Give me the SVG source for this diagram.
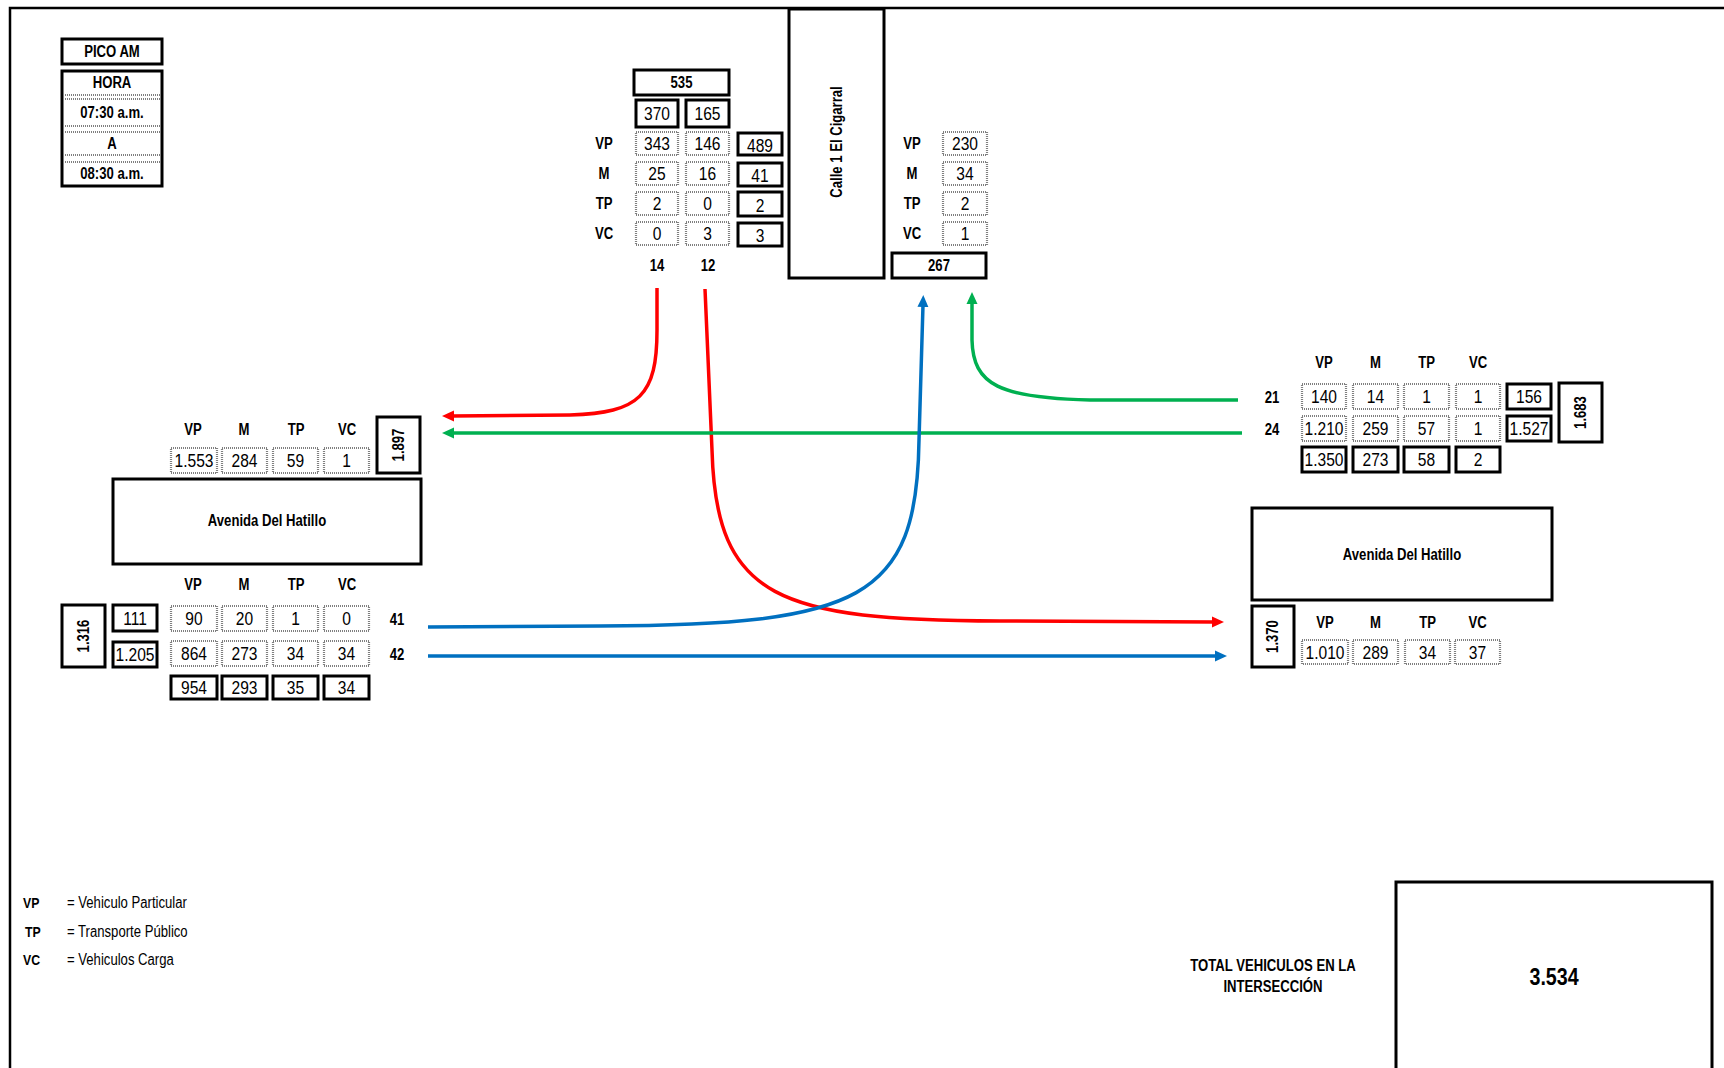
<svg xmlns="http://www.w3.org/2000/svg" width="1724" height="1068" viewBox="0 0 1724 1068">
<style>
text{font-family:"Liberation Sans",Arial,sans-serif;text-anchor:middle;dominant-baseline:central;fill:#000}
text:not(.r){transform-box:fill-box;transform-origin:center;transform:scaleX(0.82)}
text.lg,text.lb{transform-origin:left center}
.b{font-weight:bold;font-size:16px}
.n{font-size:19px}
.lg{font-size:16px;text-anchor:start}
.lb{font-weight:bold;font-size:15px;text-anchor:start}
.big{font-weight:bold;font-size:24px}
.k{fill:#fff;stroke:#000;stroke-width:3}
.d{fill:#fff;stroke:#7f7f7f;stroke-width:2.2;stroke-dasharray:1 1}
.dl{stroke:#7f7f7f;stroke-width:2.2;stroke-dasharray:1 1;fill:none}
.ar{fill:none;stroke-width:3.5}
</style>
<defs>
<marker id="mr" markerUnits="userSpaceOnUse" markerWidth="13" markerHeight="12" refX="2" refY="6" orient="auto"><path d="M0,0.5 L12,6 L0,11.5 z" fill="#FF0000"/></marker>
<marker id="mg" markerUnits="userSpaceOnUse" markerWidth="13" markerHeight="12" refX="2" refY="6" orient="auto"><path d="M0,0.5 L12,6 L0,11.5 z" fill="#00B050"/></marker>
<marker id="mb" markerUnits="userSpaceOnUse" markerWidth="13" markerHeight="12" refX="2" refY="6" orient="auto"><path d="M0,0.5 L12,6 L0,11.5 z" fill="#0070C0"/></marker>
</defs>
<rect width="1724" height="1068" fill="#fff"/>
<path d="M10,1068 L10,8 L1724,8" fill="none" stroke="#000" stroke-width="2.5"/>

<g id="header">
<rect class="k" x="62" y="39" width="100" height="25"/>
<text class="b" x="112" y="51.5">PICO AM</text>
<rect class="k" x="62" y="71" width="100" height="115"/>
<path class="dl" d="M63,95 H161 M63,99 H161 M63,126 H161 M63,132 H161 M63,155 H161 M63,162 H161"/>
<text class="b" x="112" y="83">HORA</text>
<text class="b" x="112" y="113">07:30 a.m.</text>
<text class="b" x="112" y="144">A</text>
<text class="b" x="112" y="174">08:30 a.m.</text>
</g>

<g id="calle-cigarral">
<rect class="k" x="789" y="9" width="95" height="269"/>
<text class="b r" transform="translate(837,142) rotate(-90) scale(0.82,1)" x="0" y="0">Calle 1 El Cigarral</text>
</g>

<g id="north-in">
<rect class="k" x="634" y="70" width="95" height="25"/>
<text class="b" x="681.5" y="82.5">535</text>
<rect class="k" x="636" y="100" width="42" height="27"/>
<rect class="k" x="686" y="100" width="43" height="27"/>
<text class="n" x="657" y="113.5">370</text>
<text class="n" x="707.5" y="113.5">165</text>
<text class="b" x="604" y="143.5">VP</text>
<text class="b" x="604" y="173.5">M</text>
<text class="b" x="604" y="203.5">TP</text>
<text class="b" x="604" y="233.5">VC</text>
<rect class="d" x="636" y="132" width="42" height="23"/>
<rect class="d" x="686" y="132" width="43" height="23"/>
<rect class="d" x="636" y="162" width="42" height="23"/>
<rect class="d" x="686" y="162" width="43" height="23"/>
<rect class="d" x="636" y="192" width="42" height="23"/>
<rect class="d" x="686" y="192" width="43" height="23"/>
<rect class="d" x="636" y="222" width="42" height="23"/>
<rect class="d" x="686" y="222" width="43" height="23"/>
<text class="n" x="657" y="143.5">343</text>
<text class="n" x="707.5" y="143.5">146</text>
<text class="n" x="657" y="173.5">25</text>
<text class="n" x="707.5" y="173.5">16</text>
<text class="n" x="657" y="203.5">2</text>
<text class="n" x="707.5" y="203.5">0</text>
<text class="n" x="657" y="233.5">0</text>
<text class="n" x="707.5" y="233.5">3</text>
<rect class="k" x="738" y="133" width="44" height="22"/>
<rect class="k" x="738" y="163" width="44" height="23"/>
<rect class="k" x="738" y="192" width="44" height="24"/>
<rect class="k" x="738" y="223" width="44" height="23"/>
<text class="n" x="760" y="145">489</text>
<text class="n" x="760" y="175.5">41</text>
<text class="n" x="760" y="205">2</text>
<text class="n" x="760" y="235.5">3</text>
<text class="b" x="657" y="266">14</text>
<text class="b" x="708" y="266">12</text>
</g>

<g id="north-out">
<text class="b" x="912" y="143.5">VP</text>
<text class="b" x="912" y="173.5">M</text>
<text class="b" x="912" y="203.5">TP</text>
<text class="b" x="912" y="233.5">VC</text>
<rect class="d" x="943" y="132" width="44" height="23"/>
<rect class="d" x="943" y="162" width="44" height="23"/>
<rect class="d" x="943" y="192" width="44" height="23"/>
<rect class="d" x="943" y="222" width="44" height="23"/>
<text class="n" x="965" y="143.5">230</text>
<text class="n" x="965" y="173.5">34</text>
<text class="n" x="965" y="203.5">2</text>
<text class="n" x="965" y="233.5">1</text>
<rect class="k" x="892" y="253" width="94" height="25"/>
<text class="b" x="939" y="265.5">267</text>
</g>

<g id="west-out">
<text class="b" x="193" y="430">VP</text>
<text class="b" x="244" y="430">M</text>
<text class="b" x="296" y="430">TP</text>
<text class="b" x="347" y="430">VC</text>
<rect class="d" x="171" y="448" width="46" height="25"/>
<rect class="d" x="222" y="448" width="45" height="25"/>
<rect class="d" x="273" y="448" width="45" height="25"/>
<rect class="d" x="324" y="448" width="45" height="25"/>
<text class="n" x="194" y="460.5">1.553</text>
<text class="n" x="244.5" y="460.5">284</text>
<text class="n" x="295.5" y="460.5">59</text>
<text class="n" x="346.5" y="460.5">1</text>
<rect class="k" x="377" y="417" width="43" height="56"/>
<text class="b r" transform="translate(398.5,445) rotate(-90) scale(0.82,1)" x="0" y="0">1.897</text>
</g>

<g id="avenida-west">
<rect class="k" x="113" y="479" width="308" height="85"/>
<text class="b" x="267" y="521">Avenida Del Hatillo</text>
</g>

<g id="west-in">
<text class="b" x="193" y="585">VP</text>
<text class="b" x="244" y="585">M</text>
<text class="b" x="296" y="585">TP</text>
<text class="b" x="347" y="585">VC</text>
<rect class="k" x="62" y="605" width="43" height="62"/>
<text class="b r" transform="translate(83.5,636) rotate(-90) scale(0.82,1)" x="0" y="0">1.316</text>
<rect class="k" x="113" y="605" width="44" height="26"/>
<rect class="k" x="113" y="642" width="44" height="25"/>
<text class="n" x="135" y="618">111</text>
<text class="n" x="135" y="654.5">1.205</text>
<rect class="d" x="171" y="606" width="46" height="25"/>
<rect class="d" x="222" y="606" width="45" height="25"/>
<rect class="d" x="273" y="606" width="45" height="25"/>
<rect class="d" x="324" y="606" width="45" height="25"/>
<rect class="d" x="171" y="641" width="46" height="25"/>
<rect class="d" x="222" y="641" width="45" height="25"/>
<rect class="d" x="273" y="641" width="45" height="25"/>
<rect class="d" x="324" y="641" width="45" height="25"/>
<text class="n" x="194" y="618.5">90</text>
<text class="n" x="244.5" y="618.5">20</text>
<text class="n" x="295.5" y="618.5">1</text>
<text class="n" x="346.5" y="618.5">0</text>
<text class="n" x="194" y="653.5">864</text>
<text class="n" x="244.5" y="653.5">273</text>
<text class="n" x="295.5" y="653.5">34</text>
<text class="n" x="346.5" y="653.5">34</text>
<rect class="k" x="171" y="676" width="46" height="23"/>
<rect class="k" x="222" y="676" width="45" height="23"/>
<rect class="k" x="273" y="676" width="45" height="23"/>
<rect class="k" x="324" y="676" width="45" height="23"/>
<text class="n" x="194" y="687.5">954</text>
<text class="n" x="244.5" y="687.5">293</text>
<text class="n" x="295.5" y="687.5">35</text>
<text class="n" x="346.5" y="687.5">34</text>
<text class="b" x="397" y="620">41</text>
<text class="b" x="397" y="655">42</text>
</g>

<g id="east-in">
<text class="b" x="1324" y="363">VP</text>
<text class="b" x="1375.5" y="363">M</text>
<text class="b" x="1426.5" y="363">TP</text>
<text class="b" x="1478" y="363">VC</text>
<rect class="d" x="1302" y="384" width="44" height="25"/>
<rect class="d" x="1353" y="384" width="45" height="25"/>
<rect class="d" x="1404" y="384" width="45" height="25"/>
<rect class="d" x="1456" y="384" width="44" height="25"/>
<rect class="d" x="1302" y="416" width="44" height="25"/>
<rect class="d" x="1353" y="416" width="45" height="25"/>
<rect class="d" x="1404" y="416" width="45" height="25"/>
<rect class="d" x="1456" y="416" width="44" height="25"/>
<text class="n" x="1324" y="396.5">140</text>
<text class="n" x="1375.5" y="396.5">14</text>
<text class="n" x="1426.5" y="396.5">1</text>
<text class="n" x="1478" y="396.5">1</text>
<text class="n" x="1324" y="428.5">1.210</text>
<text class="n" x="1375.5" y="428.5">259</text>
<text class="n" x="1426.5" y="428.5">57</text>
<text class="n" x="1478" y="428.5">1</text>
<rect class="k" x="1302" y="447" width="44" height="25"/>
<rect class="k" x="1353" y="447" width="45" height="25"/>
<rect class="k" x="1404" y="447" width="45" height="25"/>
<rect class="k" x="1456" y="447" width="44" height="25"/>
<text class="n" x="1324" y="459.5">1.350</text>
<text class="n" x="1375.5" y="459.5">273</text>
<text class="n" x="1426.5" y="459.5">58</text>
<text class="n" x="1478" y="459.5">2</text>
<rect class="k" x="1507" y="384" width="44" height="25"/>
<rect class="k" x="1507" y="416" width="44" height="25"/>
<text class="n" x="1529" y="396.5">156</text>
<text class="n" x="1529" y="428.5">1.527</text>
<rect class="k" x="1559" y="383" width="43" height="59"/>
<text class="b r" transform="translate(1580.5,412.5) rotate(-90) scale(0.82,1)" x="0" y="0">1.683</text>
<text class="b" x="1272" y="398">21</text>
<text class="b" x="1272" y="430">24</text>
</g>

<g id="avenida-east">
<rect class="k" x="1252" y="508" width="300" height="92"/>
<text class="b" x="1402" y="555">Avenida Del Hatillo</text>
</g>

<g id="east-out">
<rect class="k" x="1252" y="606" width="42" height="61"/>
<text class="b r" transform="translate(1273,636.5) rotate(-90) scale(0.82,1)" x="0" y="0">1.370</text>
<text class="b" x="1325" y="623">VP</text>
<text class="b" x="1375.5" y="623">M</text>
<text class="b" x="1427.5" y="623">TP</text>
<text class="b" x="1477.5" y="623">VC</text>
<rect class="d" x="1302" y="640" width="46" height="24"/>
<rect class="d" x="1353" y="640" width="45" height="24"/>
<rect class="d" x="1405" y="640" width="45" height="24"/>
<rect class="d" x="1455" y="640" width="45" height="24"/>
<text class="n" x="1325" y="652">1.010</text>
<text class="n" x="1375.5" y="652">289</text>
<text class="n" x="1427.5" y="652">34</text>
<text class="n" x="1477.5" y="652">37</text>
</g>

<g id="connectors">
<path class="ar" stroke="#FF0000" marker-end="url(#mr)" d="M657,288 L657,330 C657,395 640,413 570,415 L452,416"/>
<path class="ar" stroke="#FF0000" marker-end="url(#mr)" d="M705,289 L712,450 C716,600 780,620 1000,621 L1214,622"/>
<path class="ar" stroke="#00B050" marker-end="url(#mg)" d="M1238,400 L1090,400 C1000,398 973,385 972,340 L972,302"/>
<path class="ar" stroke="#00B050" marker-end="url(#mg)" d="M1242,433 L452,433"/>
<path class="ar" stroke="#0070C0" marker-end="url(#mb)" d="M428,627 L600,626 C860,625 917,600 919,440 L923,305"/>
<path class="ar" stroke="#0070C0" marker-end="url(#mb)" d="M428,656 L1217,656"/>
</g>

<g id="legend">
<text class="lb" x="23" y="903">VP</text>
<text class="lg" x="67" y="903">= Vehiculo Particular</text>
<text class="lb" x="25" y="932">TP</text>
<text class="lg" x="67" y="932">= Transporte Público</text>
<text class="lb" x="23" y="960">VC</text>
<text class="lg" x="67" y="960">= Vehiculos Carga</text>
</g>

<g id="total">
<text class="b" x="1273" y="966">TOTAL VEHICULOS EN LA</text>
<text class="b" x="1273" y="987">INTERSECCIÓN</text>
<path d="M1396,1070 L1396,882 L1712,882 L1712,1070" fill="none" stroke="#000" stroke-width="3"/>
<text class="big" x="1554" y="977">3.534</text>
</g>
</svg>
